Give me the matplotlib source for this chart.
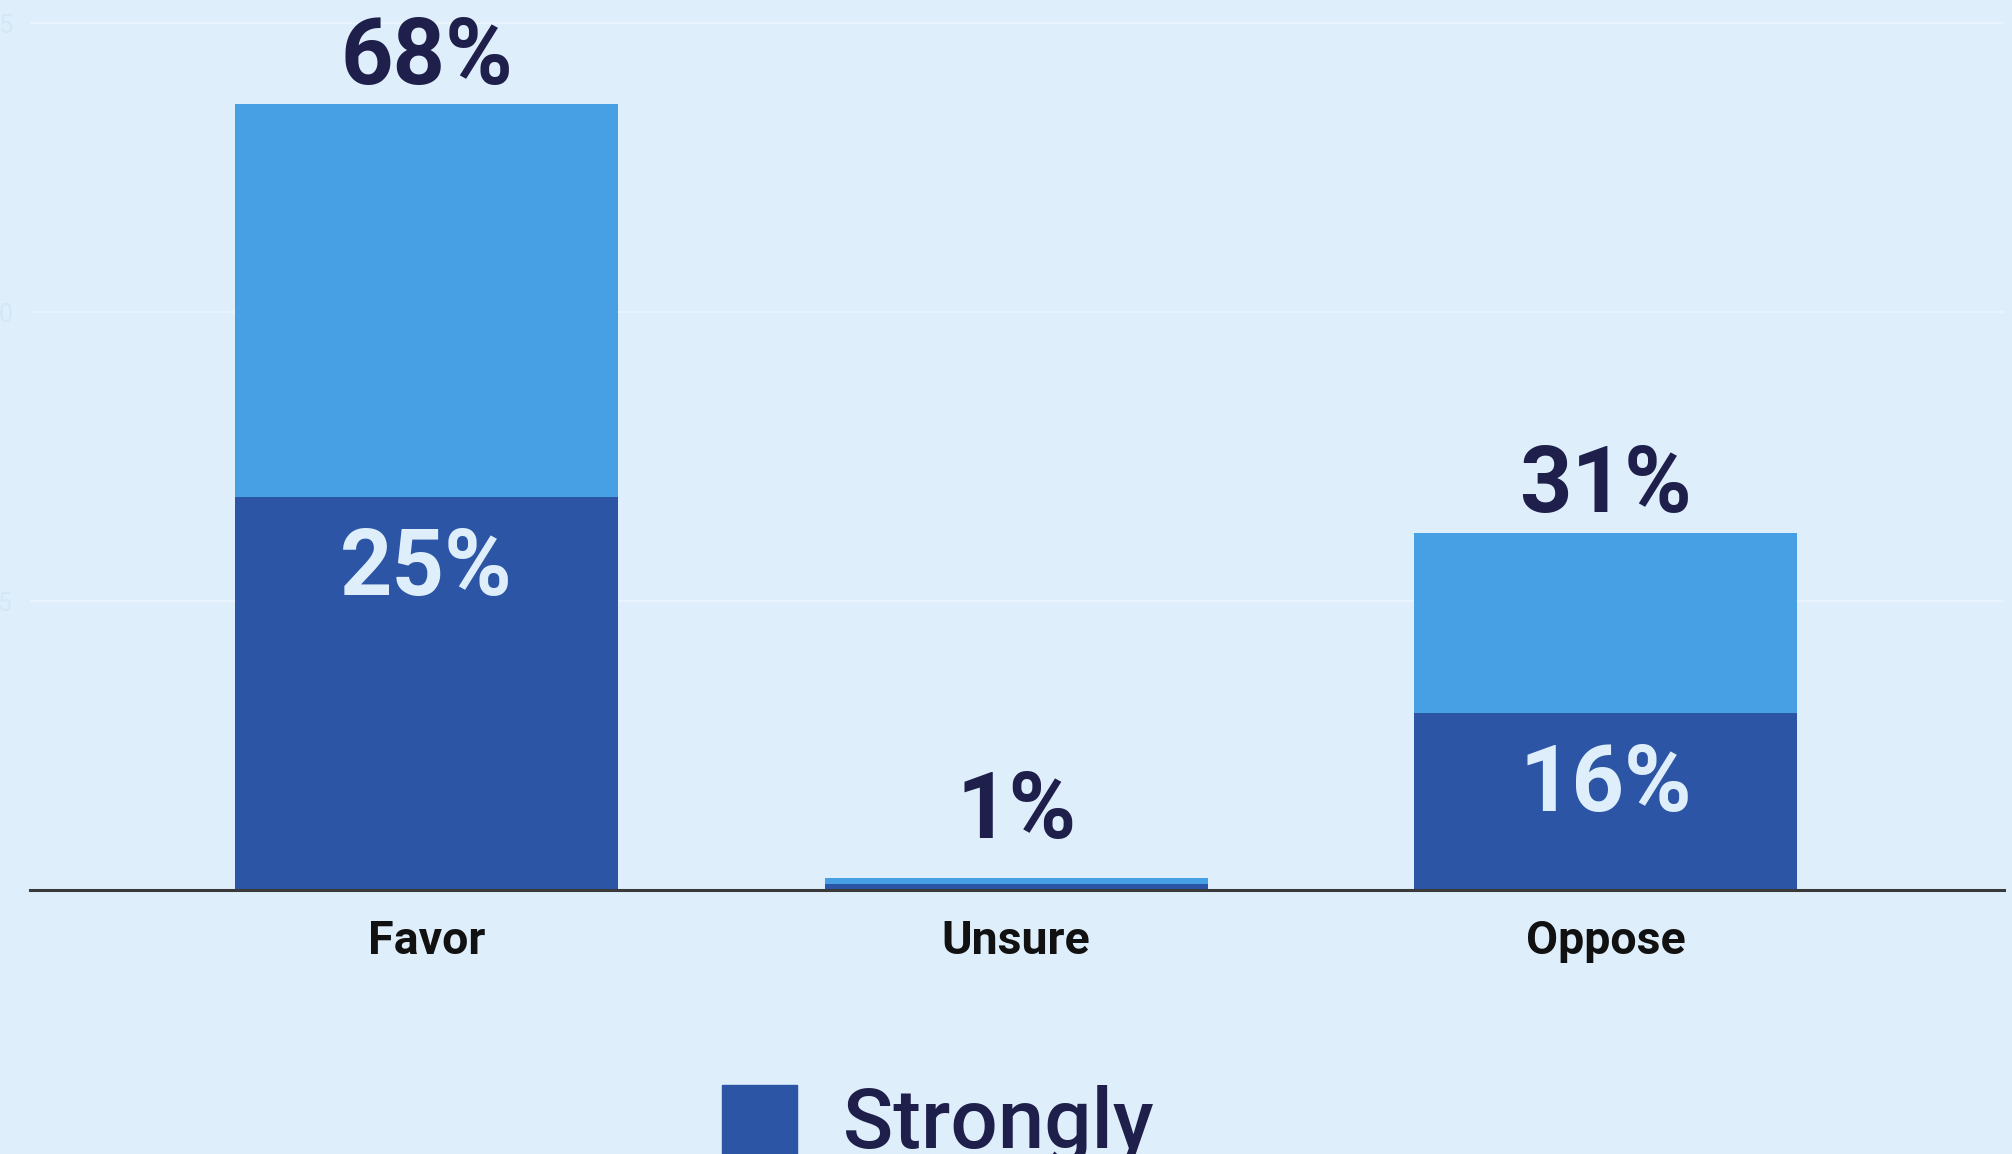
import matplotlib
matplotlib.use("Agg")
import matplotlib.pyplot as plt
from matplotlib.patches import Patch

# ---- data ----
categories = ["Favor", "Unsure", "Oppose"]
strongly = [34, 0.5, 15.3]          # dark (strongly) segment heights as drawn
somewhat = [34, 0.5, 15.6]          # light segment stacked on top
total_labels = ["68%", "1%", "31%"]
strong_labels = ["25%", "", "16%"]
yticks = [25, 50, 75]
ytick_labels = ["25", "50", "75"]
legend_labels = ["Strongly"]

BG = "#DEEEFB"
DARK = "#2C55A6"
LIGHT = "#47A0E3"
NAVY = "#1F1F4B"

plt.rcParams["font.family"] = ["Roboto", "DejaVu Sans"]

fig = plt.figure(figsize=(20.12, 11.54), dpi=100, facecolor=BG)
ax = fig.add_axes([30 / 2012, 264 / 1154, (2004 - 30) / 2012, 890 / 1154])
ax.set_facecolor(BG)

x = list(range(len(categories)))
width = 0.65
ax.bar(x, strongly, width=width, color=DARK, zorder=3)
ax.bar(x, somewhat, width=width, bottom=strongly, color=LIGHT, zorder=3)

ax.set_xlim(-0.673, 2.676)
ax.set_ylim(0, 77)

ax.set_yticks(yticks)
ax.set_yticklabels(ytick_labels, color="#D3E7F7", fontsize=18)
ax.tick_params(axis="y", length=0, pad=12)
ax.grid(axis="y", color="#E8F3FD", linewidth=1.5, zorder=0)

ax.set_xticks(x)
ax.set_xticklabels(categories, fontsize=33.5, fontweight="bold", color="#111111")
ax.tick_params(axis="x", length=0, pad=21)

for s in ["left", "right", "top"]:
    ax.spines[s].set_visible(False)
ax.spines["bottom"].set_color("#3A3A3A")
ax.spines["bottom"].set_linewidth(2.2)
ax.spines["bottom"].set_zorder(4)

for i in x:
    tot = strongly[i] + somewhat[i]
    anchor = max(tot, 2.7)
    ax.annotate(total_labels[i], (i, anchor), xytext=(0, 1), textcoords="offset points",
                ha="center", va="bottom", fontsize=66, fontweight="bold", color=NAVY,
                annotation_clip=False, zorder=5)
    if strong_labels[i]:
        ax.annotate(strong_labels[i], (i, strongly[i]), xytext=(0, -20), textcoords="offset points",
                    ha="center", va="top", fontsize=66, fontweight="bold", color=BG,
                    annotation_clip=False, zorder=5)

handles = [Patch(facecolor=DARK, edgecolor=DARK)]
leg = fig.legend(handles, legend_labels, loc="upper left", bbox_to_anchor=(647 / 2012, 1 - 1010 / 1154),
                 frameon=False, handlelength=0.9, handleheight=0.9, handletextpad=0.55,
                 labelcolor=NAVY, prop={"family": ["Roboto", "DejaVu Sans"], "size": 60, "weight": "medium"})

fig.savefig("out.png", dpi=100, facecolor=BG)
